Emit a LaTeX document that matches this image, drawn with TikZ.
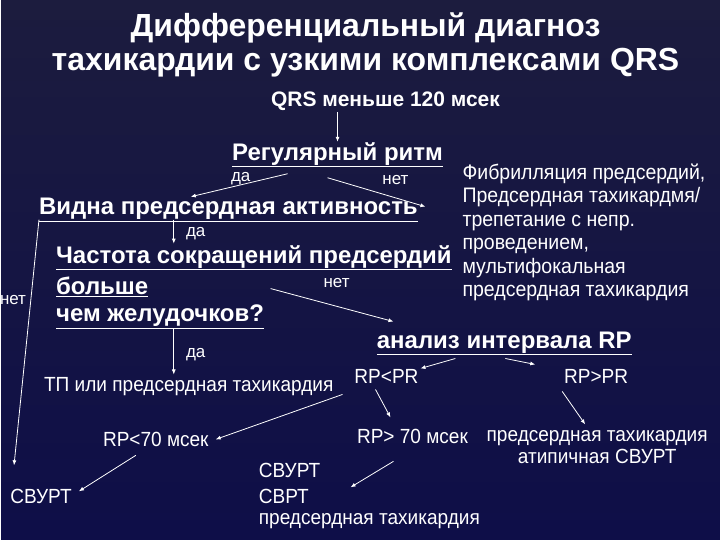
\documentclass[tikz,border=0pt]{standalone}
\usepackage{fontspec}
\setmainfont{Liberation Sans}
\usetikzlibrary{arrows.meta}
\begin{document}
\begin{tikzpicture}[x=1pt,y=-1pt,
  every node/.style={text=white,inner sep=0pt},
  head/.style={font=\fontsize{24}{26}\selectfont\bfseries},
  small/.style={font=\fontsize{17}{19}\selectfont},
  narrow/.style={font=\fontsize{20.5}{22}\selectfont\addfontfeatures{FakeStretch=0.93}},
  arr/.style={draw=white,line width=0.8pt,-{Latex[length=5pt,width=4pt]}}]
\fill[top color={rgb,255:red,28;green,28;blue,62},bottom color={rgb,255:red,14;green,14;blue,72}] (0,0) rectangle (720,540);
\node[font=\fontsize{32}{34}\selectfont\bfseries,align=center] (title) at (365,45) {Дифференциальный диагноз\\тахикардии с узкими комплексами QRS};
\node[font=\fontsize{21}{24}\selectfont\bfseries] (qrs) at (385,101) {QRS меньше 120 мсек};
\node[head] (reg) at (337,155) {\underline{Регулярный ритм}};
\node[small] (da1) at (240,179) {да};
\node[small] (net1) at (395,180) {нет};
\node[head,anchor=west] (vid) at (38,210) {\underline{Видна предсердная активность}};
\node[small] (da2) at (195,234) {да};
\node[head,anchor=west] (ch1) at (55,258) {\underline{Частота сокращений предсердий}};
\node[head,anchor=west] (ch2) at (55,287) {\underline{больше}};
\node[head,anchor=west] (ch3) at (55,317) {\underline{чем желудочков?}};
\node[small] (net2) at (336,283) {нет};
\node[small] (net3) at (12,300) {нет};
\node[small] (da3) at (195,355) {да};
\node[font=\fontsize{21}{23.5}\selectfont\addfontfeatures{FakeStretch=0.93},anchor=north west,align=left] (fib) at (462,164) {Фибрилляция предсердий,\\Предсердная тахикардмя/\\трепетание с непр.\\проведением,\\мультифокальная\\предсердная тахикардия};
\node[head] (anal) at (504,344) {\underline{анализ интервала RP}};
\node[narrow] (tp) at (188,387) {ТП или предсердная тахикардия};
\node[narrow] (lt) at (386,377) {RP<PR};
\node[narrow] (gt) at (596,377) {RP>PR};
\node[narrow] (r70) at (155,440) {RP<70 мсек};
\node[narrow] (g70) at (412,437) {RP> 70 мсек};
\node[narrow,align=center] (pt) at (597,448) {предсердная тахикардия\\атипичная СВУРТ};
\node[narrow] (sv1) at (40,497) {СВУРТ};
\node[narrow,anchor=west] (sv2a) at (258,471) {СВУРТ};
\node[narrow,anchor=west] (sv2b) at (258,497) {СВРТ};
\node[narrow,anchor=west] (sv2c) at (258,522) {предсердная тахикардия};
\coordinate (c1) at (38,220);
\draw[arr] (337,112) -- (337,142);
\draw[arr] (287,174) -- (190,197);
\draw[arr] (327,178) -- (425,207);
\draw[arr] (173,220) -- (173,244);
\draw[arr] (270,289) -- (393,322);
\draw[arr] (c1) -- (13,466);
\draw[arr] (173,329) -- (173,375);
\draw[arr] (455,359) -- (420,369);
\draw[arr] (505,359) -- (535,365);
\draw[arr] (342,395) -- (215,440);
\draw[arr] (375,390) -- (390,418);
\draw[arr] (562,392) -- (585,425);
\draw[arr] (135,456) -- (78,492);
\draw[arr] (393,462) -- (350,488);
\end{tikzpicture}
\end{document}
